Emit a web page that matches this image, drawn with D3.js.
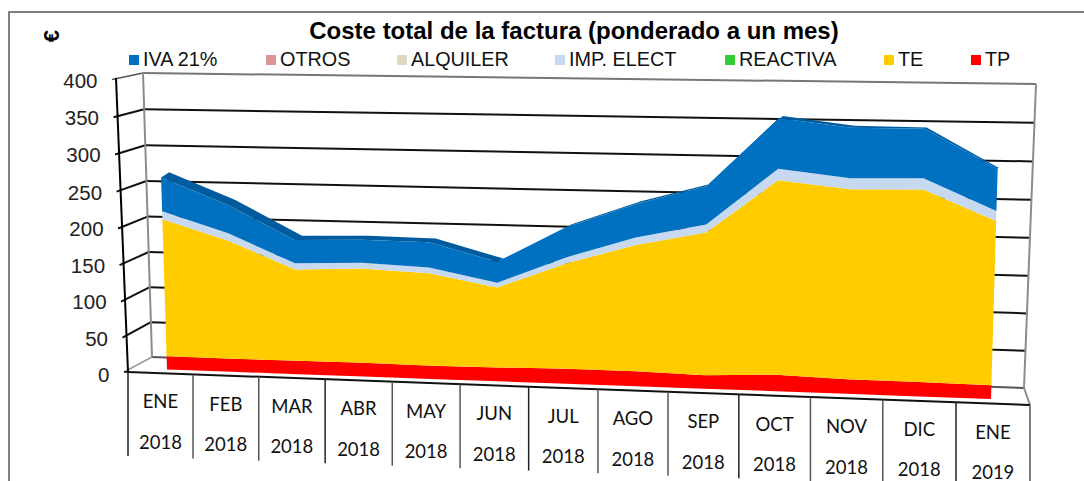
<!DOCTYPE html>
<html><head><meta charset="utf-8">
<script src="https://cdn.jsdelivr.net/npm/d3@7/dist/d3.min.js"></script>
<style>html,body{margin:0;padding:0;background:#fff}svg{display:block}</style>
</head><body><svg id="c" width="1084" height="481"></svg>
<script>
const months=["ENE","FEB","MAR","ABR","MAY","JUN","JUL","AGO","SEP","OCT","NOV","DIC","ENE"];
const years=["2018","2018","2018","2018","2018","2018","2018","2018","2018","2018","2018","2018","2019"];
const TP=[18.5,18,18.7,18.9,18,19,20.3,20.2,18,22,19.5,19,18];
const TE=[189,162.5,125,128.5,125.5,108,141.5,168.5,189.5,255.5,248.5,250.5,213];
const REACTIVA=[0,0,0,0,0,0,0,0,0,0,0,0,0];
const IMP_ELECT=[11,10,8.5,8,8,6.5,8,10,10.5,15,14,14.5,13];
const ALQUILER=[0,0,0,0,0,0,0,0,0,0,0,0,0];
const OTROS=[0,0,0,0,0,0,0,0,0,0,0,0,0];
const IVA=[46,39,31.5,31,34,28,40,44,50,65,65,63,54];
const valueTicks=[0,50,100,150,200,250,300,350,400];
const legendLabels=["IVA 21%","OTROS","ALQUILER","IMP. ELECT","REACTIVA","TE","TP"];
const legendColors=["#0070c0","#d99694","#ddd9c3","#c6d9f1","#33cc33","#ffcc00","#ff0000"];
const legendX=[129,266,397,555,725,884,971];

// layout: projective planes of the 3D box
function plane(q){
  const [[x0,y0],[x1,y1],[x2,y2],[x3,y3]]=q;
  const dx1=x1-x2,dx2=x3-x2,dx3=x0-x1+x2-x3,dy1=y1-y2,dy2=y3-y2,dy3=y0-y1+y2-y3;
  const D=dx1*dy2-dx2*dy1, g=(dx3*dy2-dx2*dy3)/D, h=(dx1*dy3-dx3*dy1)/D;
  const a=x1-x0+g*x1,b=x3-x0+h*x3,d=y1-y0+g*y1,e=y3-y0+h*y3;
  return (u,v)=>{const w=g*u+h*v+1;return [(a*u+b*v+x0)/w,(d*u+e*v+y0)/w];};
}
const wall=plane([[152,357],[1024,388],[1036,84],[143,73]]);
const front=plane([[128,372],[1030,405],[1043,90],[116,78]]);
const dataFront=plane([[167,369.5],[991,399],[1000,88],[158,77]]);
const dataBack=plane([[175,365.5],[991.5,398],[1001,87],[166,71]]);

const v=d3.scaleLinear().domain([0,400]).range([0,1]);
const uData=d3.scalePoint().domain(d3.range(months.length)).range([0,1]);
const uBand=d3.scaleBand().domain(d3.range(months.length)).range([0,1]).paddingInner(0).paddingOuter(0);

const svg=d3.select("#c");
const SANS="'Liberation Sans',Arial,sans-serif";
const seg=(a,b,color,w)=>svg.append("line").attr("x1",a[0]).attr("y1",a[1]).attr("x2",b[0]).attr("y2",b[1]).attr("stroke",color).attr("stroke-width",w);

// frame
svg.append("path").attr("d","M9,481V12H1084").attr("fill","none").attr("stroke","#7f7f7f").attr("stroke-width",2);

// title, unit
svg.append("text").attr("x",574).attr("y",39).attr("text-anchor","middle").attr("font-family",SANS).attr("font-weight","bold").attr("font-size",24).attr("fill","#000").text("Coste total de la factura (ponderado a un mes)");
svg.append("text").attr("transform","translate(59,36) rotate(-90)").attr("text-anchor","middle").attr("font-family",SANS).attr("font-weight","bold").attr("font-size",22).attr("fill","#000").text("€");

// legend
legendLabels.forEach((t,i)=>{
  svg.append("rect").attr("x",legendX[i]).attr("y",55).attr("width",10).attr("height",10).attr("fill",legendColors[i]);
  svg.append("text").attr("x",legendX[i]+14).attr("y",66).attr("font-family",SANS).attr("font-size",19.8).attr("fill","#111").text(t);
});

// walls
valueTicks.forEach(t=>{
  const vv=v(t);
  if(t>0&&t<400) seg(wall(0,vv),wall(1,vv),"#111",2);
  if(t===0) seg(wall(0,vv),wall(1,vv),"#555",2);
  if(t===400) seg(wall(0,vv),wall(1,vv),"#777",2);
  const f=front(0,vv),b=wall(0,vv);
  seg([f[0]-4,f[1]+(t===0?0:1.6)],b,t===0?"#999":(t===400?"#555":"#111"),t===0||t===400?1.5:2);
});
seg(wall(0,0),wall(0,1),"#8c8c8c",2);
seg(wall(1,0),wall(1,1),"#8c8c8c",2);
seg(wall(1,0),front(1,0),"#8c8c8c",2);

// stacked areas
const keys=["TP","TE","REACTIVA","IMP","ALQ","OTROS","IVA"];
const columns={TP,TE,REACTIVA,IMP:IMP_ELECT,ALQ:ALQUILER,OTROS,IVA};
const colors={TP:"#ff0000",TE:"#ffcc00",REACTIVA:"#33cc33",IMP:"#c6d9f1",ALQ:"#ddd9c3",OTROS:"#d99694",IVA:"#0070c0"};
const rows=months.map((m,i)=>Object.fromEntries(keys.map(k=>[k,columns[k][i]])));
const stacked=d3.stack().keys(keys)(rows);
const topLayer=stacked[stacked.length-1];

const band=d3.area()
  .x0((d,i)=>dataFront(uData(i),v(d[1]))[0]).y0((d,i)=>dataFront(uData(i),v(d[1]))[1])
  .x1((d,i)=>dataBack(uData(i),v(d[1]))[0]).y1((d,i)=>dataBack(uData(i),v(d[1]))[1]);
svg.append("path").datum(topLayer).attr("d",band).attr("fill","#005c9f");

const faceArea=d3.area()
  .x0((d,i)=>dataFront(uData(i),v(d[0]))[0]).y0((d,i)=>dataFront(uData(i),v(d[0]))[1])
  .x1((d,i)=>dataFront(uData(i),v(d[1]))[0]).y1((d,i)=>dataFront(uData(i),v(d[1]))[1]);
svg.selectAll("path.s").data(stacked).join("path").attr("class","s").attr("d",faceArea).attr("fill",d=>colors[d.key]);

// front axis, floor edge
seg(front(0,0),front(0,1),"#000",2);
seg([front(0,0)[0]-4,front(0,0)[1]],front(0,0),"#000",1.5);
seg(front(0,0),front(1,0),"#111",2);

// value labels
svg.selectAll("text.y").data(valueTicks).join("text").attr("class","y")
  .attr("x",t=>front(0,v(t))[0]-18.5).attr("y",t=>front(0,v(t))[1]+9.5)
  .attr("text-anchor","end").attr("font-family",SANS).attr("font-size",20.5).attr("fill","#222").text(t=>t);

// category table
d3.range(months.length+1).forEach(i=>{
  const p=front(i/months.length,0);
  seg(p,[p[0],p[1]+84],i%3==0?"#222":"#555",1.5);
});
months.forEach((m,i)=>{
  const p=front(uBand(i)+uBand.bandwidth()/2,0);
  const g=(t,dy)=>svg.append("text").attr("x",p[0]).attr("y",p[1]+dy).attr("text-anchor","middle")
    .attr("font-family","Lato,sans-serif").attr("font-size",18.5).attr("fill","#111").text(t);
  g(m,35);g(years[i],75.5);
});
</script></body></html>
